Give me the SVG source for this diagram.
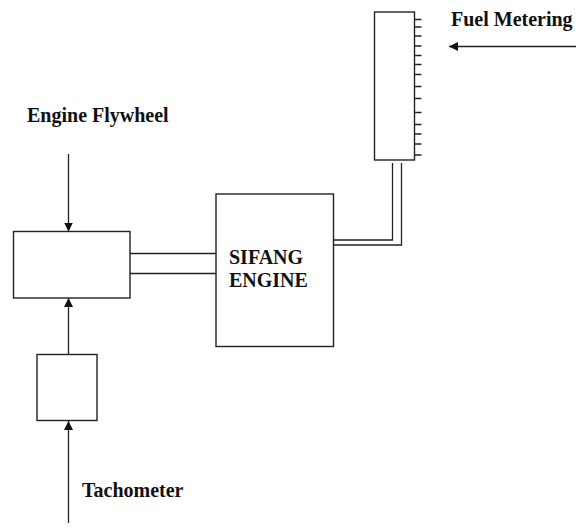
<svg xmlns="http://www.w3.org/2000/svg" width="576" height="529" viewBox="0 0 576 529">
<defs>
<style>
.box{fill:#fff;stroke:#222;stroke-width:1.4}
.ln{fill:none;stroke:#222;stroke-width:1.3}
.lbl{font-family:"Liberation Serif","Times New Roman",serif;font-weight:bold;font-size:20px;fill:#111}
</style>
<marker id="ah" viewBox="0 0 10 10" refX="10" refY="5" markerWidth="9" markerHeight="9" markerUnits="userSpaceOnUse" orient="auto">
<path d="M0,0 L10,5 L0,10 Z" fill="#111"/>
</marker>
</defs>
<rect width="576" height="529" fill="#fff"/>
<g id="connectors">
<line class="ln" x1="576" y1="46.5" x2="449" y2="46.5" marker-end="url(#ah)"/>
<line class="ln" x1="68.5" y1="154" x2="68.5" y2="231.5" marker-end="url(#ah)"/>
<line class="ln" x1="68.5" y1="354" x2="68.5" y2="298" marker-end="url(#ah)"/>
<line class="ln" x1="68.5" y1="523" x2="68.5" y2="421" marker-end="url(#ah)"/>
<line class="ln" x1="130" y1="253.5" x2="216" y2="253.5"/>
<line class="ln" x1="130" y1="273.5" x2="216" y2="273.5"/>
<polyline class="ln" points="392.5,163 392.5,240 333.5,240"/>
<polyline class="ln" points="401.5,163 401.5,245 333.5,245"/>
</g>
<g id="fuel-gauge">
<rect class="box" x="374.5" y="12" width="40" height="148"/>
<path class="ln" d="M414.5,19.5h7M414.5,27h7M414.5,36h7M414.5,46h7M414.5,55.5h7M414.5,64.5h7M414.5,74.5h7M414.5,86.5h7M414.5,98.5h7M414.5,112.5h7M414.5,124.5h7M414.5,134h7M414.5,144h7M414.5,155h7"/>
</g>
<g id="fuel-metering-label"><text class="lbl" x="451" y="26">Fuel Metering</text></g>
<g id="engine-flywheel-label"><text class="lbl" x="27" y="122">Engine Flywheel</text></g>
<g id="flywheel-box"><rect class="box" x="13.5" y="231.5" width="116.5" height="66.5"/></g>
<g id="sifang-engine">
<rect class="box" x="216" y="194" width="117.5" height="152.5"/>
<text class="lbl" x="229" y="264">SIFANG</text>
<text class="lbl" x="229" y="286.5">ENGINE</text>
</g>
<g id="tachometer-box"><rect class="box" x="37" y="354.5" width="60" height="66"/></g>
<g id="tachometer-label"><text class="lbl" x="82" y="496.5">Tachometer</text></g>
</svg>
